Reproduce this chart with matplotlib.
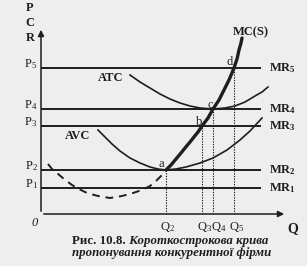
import matplotlib
matplotlib.use("Agg")
import matplotlib.pyplot as plt

plt.rcParams["font.family"] = ["Liberation Serif", "DejaVu Serif"]
plt.rcParams["mathtext.fontset"] = "custom"
plt.rcParams["mathtext.rm"] = "Liberation Serif"
plt.rcParams["mathtext.bf"] = "Liberation Serif:bold"
plt.rcParams["mathtext.default"] = "rm"

# price levels P1..P5 and quantities Q2..Q5 (chart units)
prices = [26, 44, 88, 105, 146]
price_names = ["P$_1$", "P$_2$", "P$_3$", "P$_4$", "P$_5$"]
mr_names = ["MR$_\\mathbf{1}$", "MR$_\\mathbf{2}$", "MR$_\\mathbf{3}$",
            "MR$_\\mathbf{4}$", "MR$_\\mathbf{5}$"]
quantities = [125, 161, 172, 193]
q_names = ["Q$_2$", "Q$_3$", "Q$_4$", "Q$_5$"]
point_names = ["a", "b", "c", "d"]

# marginal cost: solid part (supply curve) and dashed lower part
mc_q = [125, 130, 135, 140, 144, 149, 153, 157, 161, 167, 172, 178, 183,
        188, 193, 196, 198, 200, 201]
mc_p = [44, 49, 55, 61, 66, 72, 77, 82, 88, 96, 105, 114, 124, 134, 146,
        155, 164, 171, 176]
mc_low_q = [7, 11, 16, 23, 31, 38, 46, 57, 69, 81, 92, 101, 109, 116, 121, 125]
mc_low_p = [50, 45, 41, 35, 29, 25, 21, 18, 16, 18, 21, 24, 28, 34, 39, 44]

# average total cost
atc_q = [89, 99, 109, 119, 129, 139, 149, 159, 172, 184, 194, 204, 214,
         221, 227]
atc_p = [139, 132, 126, 120, 115, 111, 108, 106, 105, 106, 108, 112, 118,
         122, 127]

# average variable cost
avc_q = [57, 64, 71, 79, 89, 99, 109, 117, 125, 135, 145, 159, 172, 186,
         199, 209, 221]
avc_p = [84, 77, 70, 63, 56, 51, 47, 45, 44, 45, 47, 51, 56, 64, 74, 83, 96]

ink = "#1e1e1e"
bg = "#eeeeee"

fig = plt.figure(figsize=(3.07, 2.66), dpi=100, facecolor=bg)
ax = fig.add_axes([41 / 307, 52 / 266, 266 / 307, 214 / 266])
ax.set_xlim(0, 266)
ax.set_ylim(0, 214)
ax.axis("off")

# axes with arrows
ax.annotate("", xy=(0, 187), xytext=(0, 0),
            arrowprops=dict(arrowstyle="-|>", lw=1.1, color=ink, mutation_scale=9))
ax.annotate("", xy=(246, 0), xytext=(0, 0),
            arrowprops=dict(arrowstyle="-|>", lw=1.1, color=ink, mutation_scale=9))

# MR lines
for p, pn, mn in zip(prices, price_names, mr_names):
    ax.plot([0, 220], [p, p], color=ink, lw=1.4, solid_capstyle="butt")
    ax.text(-10, p + 4, pn, ha="center", va="center", fontsize=9, color=ink,
            clip_on=False)
    ax.text(228, p, mn, ha="left", va="center", fontsize=9, fontweight="bold",
            color=ink, clip_on=False)

# dotted guides and equilibrium points
for q, p in zip(quantities, prices[1:]):
    ax.plot([q, q], [0, p], color=ink, lw=0.8, ls=(0, (1.2, 1.2)))

label_offsets = [(-5, 6), (-3, 4), (-3, 4), (-4, 6)]
for q, p, nm, (dx, dy) in zip(quantities, prices[1:], point_names, label_offsets):
    ax.text(q + dx, p + dy, nm, ha="center", va="center", fontsize=9, color=ink)

ax.plot(atc_q, atc_p, color=ink, lw=1.2)
ax.plot(avc_q, avc_p, color=ink, lw=1.2)
ax.plot(mc_low_q, mc_low_p, color=ink, lw=1.4, ls=(0, (4, 3)))
ax.plot(mc_q, mc_p, color=ink, lw=2.4, solid_capstyle="round")

# labels
ax.text(210, 182, "MC(S)", ha="center", va="center", fontsize=9,
        fontweight="bold", color=ink)
ax.text(70, 136, "ATC", ha="center", va="center", fontsize=9,
        fontweight="bold", color=ink)
ax.text(37, 78, "AVC", ha="center", va="center", fontsize=9,
        fontweight="bold", color=ink)
for y, s in zip([206, 191, 176], ["P", "C", "R"]):
    ax.text(-11, y, s, ha="center", va="center", fontsize=9,
            fontweight="bold", color=ink, clip_on=False)

q_left = [119, 156, 170, 188]
for x, s in zip(q_left, q_names):
    ax.text(x, -13, s, ha="left", va="center", fontsize=9, color=ink,
            clip_on=False)
ax.text(252, -15, "Q", ha="center", va="center", fontsize=10,
        fontweight="bold", color=ink, clip_on=False)
ax.text(-6, -9, "0", ha="center", va="center", fontsize=9, style="italic",
        color=ink, clip_on=False)

# caption
t1 = ax.text(31, -27, "Рис. 10.8.", ha="left", va="center", fontsize=9.3,
             fontweight="bold", color=ink, clip_on=False)
ax.annotate(" Короткострокова крива", xy=(1, 0.5), xycoords=t1,
            ha="left", va="center", fontsize=9.3, fontweight="bold",
            style="italic", color=ink, annotation_clip=False)
ax.text(31, -39, "пропонування конкурентної фірми", ha="left", va="center",
        fontsize=9.3, fontweight="bold", style="italic", color=ink,
        clip_on=False)

fig.savefig("out.png", dpi=100, facecolor=bg)
